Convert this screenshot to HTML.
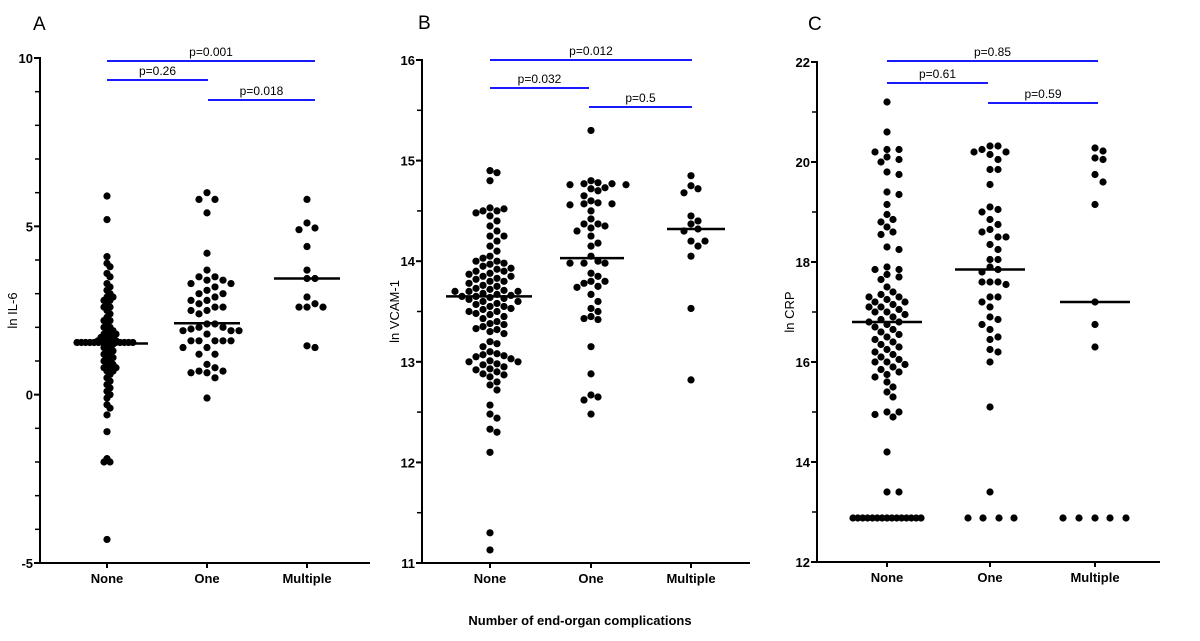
<!DOCTYPE html>
<html><head><meta charset="utf-8">
<style>
html,body{margin:0;padding:0;background:#fff;}
svg{display:block;font-family:"Liberation Sans",Arial,sans-serif;}
.t{font-size:13px;font-weight:bold;fill:#000;}
.p{font-size:12px;fill:#000;}
</style></head>
<body>
<svg id="s" width="1200" height="641" viewBox="0 0 1200 641" xmlns="http://www.w3.org/2000/svg">
<text x="33" y="30" font-size="19" fill="#000">A</text>
<text x="418" y="29" font-size="19" fill="#000">B</text>
<text x="808" y="30" font-size="19" fill="#000">C</text>
<text x="580" y="625" class="t" text-anchor="middle">Number of end-organ complications</text>
</svg>
<script>
var S=document.getElementById('s'),NS='http://www.w3.org/2000/svg';
function el(n,a,txt){var e=document.createElementNS(NS,n);for(var k in a)e.setAttribute(k,a[k]);if(txt!=null)e.textContent=txt;S.appendChild(e);return e;}
function line(x1,y1,x2,y2,c,w){el('line',{x1:x1,y1:y1,x2:x2,y2:y2,stroke:c||'#000','stroke-width':w||2});}
function swarm(cx,vals,Y,md,step){
  var pts=[];vals=vals.slice().sort(function(a,b){return b-a;});
  vals.forEach(function(v){var y=Y(v);
    for(var i=0;i<60;i++){var k=Math.ceil(i/2)*(i%2?1:-1);var x=cx+k*step;var ok=true;
      for(var j=0;j<pts.length;j++){var dx=pts[j][0]-x,dy=pts[j][1]-y;if(dx*dx+dy*dy<md*md){ok=false;break;}}
      if(ok){pts.push([x,y]);break;}}
  });
  pts.forEach(function(p){el('circle',{cx:p[0],cy:p[1],r:3.6,fill:'#000'});});
}
function panel(o){
  var Y=function(v){return o.y0+(o.vmax-v)/(o.vmax-o.vmin)*(o.y1-o.y0);};
  line(o.ax,o.y0-1,o.ax,o.y1+1,'#000',2);line(o.ax,o.y1,o.xe,o.y1,'#000',2);
  for(var v=o.vmin;v<=o.vmax+1e-9;v+=o.minor){line(o.ax-5,Y(v),o.ax,Y(v),'#000',1.5);}
  o.major.forEach(function(v){line(o.ax-6,Y(v),o.ax,Y(v),'#000',2);el('text',{x:o.ax-7,y:Y(v)+5,'class':'t','text-anchor':'end'},String(v));});
  el('text',{x:0,y:0,transform:'translate('+(o.ax-23)+','+((o.y0+o.y1)/2)+') rotate(-90)','text-anchor':'middle','font-size':'13',fill:'#000'},o.lab);
  var names=['None','One','Multiple'];
  o.cx.forEach(function(c,i){line(c,o.y1,c,o.y1+5,'#000',2);el('text',{x:c,y:o.y1+20,'class':'t','text-anchor':'middle'},names[i]);});
  o.bars.forEach(function(b){line(b[0],b[2],b[1],b[2],'#1a1aff',2);el('text',{x:(b[0]+b[1])/2,y:b[2]-5,'class':'p','text-anchor':'middle'},b[3]);});
  o.data.forEach(function(d,i){swarm(o.cx[i],d,Y,o.md[i],o.step[i]);});
  (o.extra||[]).forEach(function(p){el('circle',{cx:p[0],cy:Y(p[1]),r:3.6,fill:'#000'});});
  o.med.forEach(function(m){line(m[0],Y(m[2]),m[1],Y(m[2]),'#000',2.5);});
}
var rowA=[];for(var i=0;i<14;i++)rowA.push([77+i*4.3,1.55]);
panel({ax:40,xe:370,y0:58,y1:563,vmin:-5,vmax:10,minor:1,major:[10,5,0,-5],lab:'ln IL-6',
 cx:[107,207,307],md:[4,7,7],step:[3,8,8],
 bars:[[107,315,61,'p=0.001'],[107,208,80,'p=0.26'],[208,315,100,'p=0.018']],
 data:[[5.9,5.2,4.1,3.9,3.8,3.6,3.5,3.3,3.2,3.1,3.0,2.9,2.9,2.8,2.8,2.7,2.6,2.6,2.5,2.4,2.3,2.2,2.2,2.1,2.0,2.0,1.9,1.9,1.8,1.8,1.8,1.7,1.7,1.7,1.6,1.6,1.6,1.6,1.5,1.5,1.4,1.4,1.3,1.3,1.2,1.2,1.1,1.1,1.0,1.0,0.9,0.9,0.8,0.8,0.8,0.7,0.7,0.6,0.5,0.4,0.3,0.2,0.1,0.0,-0.1,-0.3,-0.4,-0.6,-1.1,-1.9,-2.0,-2.0,-4.3],
  [6.0,5.8,5.8,5.4,4.2,3.7,3.5,3.5,3.4,3.4,3.3,3.3,3.2,3.1,3.0,3.0,2.9,2.8,2.8,2.7,2.6,2.6,2.5,2.5,2.4,2.1,2.1,2.0,2.0,1.95,1.9,1.9,1.9,1.8,1.6,1.6,1.6,1.6,1.6,1.4,1.4,1.2,1.2,0.9,0.8,0.7,0.7,0.65,0.65,0.5,-0.1],
  [5.8,5.1,4.9,4.95,4.4,3.7,3.45,3.45,2.9,2.7,2.6,2.6,2.6,1.45,1.4]],
 extra:rowA,
 med:[[75,148,1.52],[174,240,2.12],[274,340,3.45]]});
panel({ax:422,xe:750,y0:60,y1:563,vmin:11,vmax:16,minor:0.5,major:[16,15,14,13,12,11],lab:'ln VCAM-1',
 cx:[490,591,691],md:[7.2,7.2,7.2],step:[7,7,7],
 bars:[[490,692,60,'p=0.012'],[490,589,88,'p=0.032'],[589,692,107,'p=0.5']],
 data:[[14.9,14.88,14.8,14.53,14.52,14.5,14.5,14.48,14.45,14.4,14.35,14.3,14.25,14.25,14.2,14.15,14.1,14.05,14.03,14.0,14.0,13.98,13.97,13.95,13.93,13.92,13.9,13.9,13.88,13.87,13.85,13.85,13.83,13.82,13.8,13.8,13.78,13.76,13.75,13.73,13.72,13.71,13.7,13.7,13.7,13.68,13.67,13.66,13.65,13.65,13.64,13.63,13.62,13.6,13.6,13.58,13.57,13.55,13.55,13.53,13.52,13.5,13.5,13.48,13.47,13.45,13.43,13.4,13.38,13.37,13.35,13.33,13.32,13.3,13.28,13.2,13.18,13.15,13.1,13.08,13.07,13.06,13.05,13.03,13.01,13.0,13.0,12.98,12.97,12.95,12.93,12.92,12.9,12.88,12.87,12.85,12.8,12.77,12.72,12.57,12.48,12.44,12.33,12.3,12.1,11.3,11.13],
  [15.3,14.8,14.78,14.77,14.77,14.76,14.76,14.73,14.72,14.7,14.65,14.6,14.58,14.57,14.57,14.56,14.5,14.42,14.37,14.37,14.35,14.33,14.3,14.25,14.18,14.15,14.05,14.0,13.98,13.98,13.98,13.88,13.85,13.8,13.8,13.78,13.75,13.74,13.67,13.6,13.53,13.5,13.45,13.43,13.42,13.15,12.88,12.67,12.65,12.62,12.48],
  [14.85,14.75,14.72,14.68,14.45,14.4,14.37,14.32,14.3,14.2,14.2,14.15,14.05,13.53,12.82]],
 med:[[446,532,13.65],[560,624,14.03],[667,725,14.32]]});
var rowC=[];for(var i=0;i<15;i++)rowC.push([853+i*4.86,12.88]);
[968,983,999,1014].forEach(function(x){rowC.push([x,12.88]);});
[1063,1079,1095,1110,1126].forEach(function(x){rowC.push([x,12.88]);});
panel({ax:817,xe:1160,y0:62,y1:562,vmin:12,vmax:22,minor:1,major:[22,20,18,16,14,12],lab:'ln CRP',
 cx:[887,990,1095],md:[6.8,7.5,7.5],step:[6,8,8],
 bars:[[887,1098,61,'p=0.85'],[887,988,83,'p=0.61'],[988,1098,103,'p=0.59']],
 data:[[21.2,20.6,20.25,20.25,20.2,20.1,20.05,20.0,19.8,19.75,19.4,19.35,19.15,18.95,18.85,18.8,18.7,18.6,18.55,18.3,18.25,17.9,17.85,17.85,17.75,17.7,17.65,17.5,17.4,17.35,17.3,17.3,17.25,17.2,17.2,17.15,17.1,17.1,17.05,17.0,17.0,16.95,16.9,16.85,16.8,16.8,16.75,16.7,16.65,16.6,16.55,16.5,16.45,16.4,16.35,16.3,16.25,16.2,16.15,16.1,16.05,16.0,16.0,15.95,15.9,15.85,15.8,15.75,15.7,15.6,15.5,15.4,15.3,15.0,15.0,14.95,14.9,14.2,13.4,13.4],
  [20.32,20.32,20.2,20.2,20.25,20.15,20.05,19.85,19.85,19.55,19.1,19.05,19.0,18.85,18.75,18.65,18.6,18.5,18.5,18.35,18.25,18.05,18.05,17.9,17.85,17.8,17.6,17.6,17.6,17.55,17.3,17.3,17.2,17.1,16.9,16.85,16.75,16.65,16.5,16.45,16.25,16.2,16.0,15.1,13.4],
  [20.28,20.22,20.08,20.05,19.75,19.6,19.15,17.2,16.75,16.3]],
 extra:rowC,
 med:[[852,922,16.8],[955,1025,17.85],[1060,1130,17.2]]});
</script>
</body></html>
